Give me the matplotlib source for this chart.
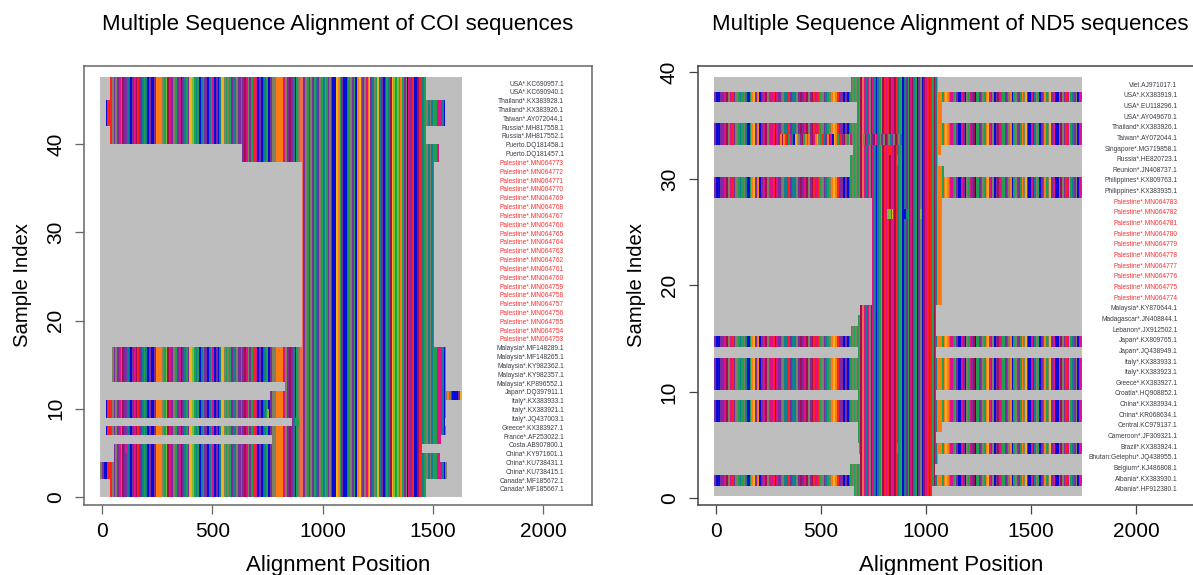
import numpy as np
import matplotlib
matplotlib.use("Agg")
import matplotlib.pyplot as plt
from matplotlib.colors import ListedColormap

plt.rcParams["font.family"] = ["Liberation Sans", "DejaVu Sans"]

W, H = 1193, 575

# base letters -> colours, index 0 is the gap colour
CODES = " robgpmtkaldsh"
COLOURS = ["#BEBEBE", "#FF2020", "#FF7A10", "#0A0AD8", "#1FA050", "#7A2CA0", "#E0108A",
           "#108090", "#7F7F62", "#F0B020", "#78C030", "#A01050", "#F06A50", "#5A1E90"]

# COI panel
COI_LABELS = ["USA*.KC690957.1", "USA*.KC690940.1", "Thailand*.KX383928.1", "Thailand*.KX383926.1",
              "Taiwan*.AY072044.1", "Russia*.MH817558.1", "Russia*.MH817552.1", "Puerto.DQ181458.1",
              "Puerto.DQ181457.1"] + [f"Palestine*.MN0647{n}" for n in range(73, 52, -1)] + [
              "Malaysia*.MF148289.1", "Malaysia*.MF148265.1", "Malaysia*.KY982362.1", "Malaysia*.KY982357.1",
              "Malaysia*.KP896552.1", "Japan*.DQ397911.1", "Italy*.KX383933.1", "Italy*.KX383921.1",
              "Italy*.JQ437003.1", "Greece*.KX383927.1", "France*.AF253022.1", "Costa.AB907800.1",
              "China*.KY971601.1", "China*.KU738431.1", "China*.KU738415.1", "Canada*.MF185672.1",
              "Canada*.MF185667.1"]
COI_START = [35, 35, -8, -8, 55, 55, 773, 15, 861, 15, 15, 761, 829, 45, 45, 45, 45] + [906] * 21 + [
    633, 633, 35, 35, 15, 15, 15, 35, 35]
COI_END = [1468, 1468, 1565, 1565, 1532, 1447, 1537, 1560, 1553, 1560, 1560, 1632, 1560, 1560, 1560, 1560, 1560] + [
    1504] * 21 + [1527, 1527, 1468, 1468, 1558, 1558, 1558, 1468, 1468]
COI_SEGMENTS = [
    (-8, 897, "kpbbrrkpkpmkdptpbpmdrptgtbpbbpoookgldmpkgpmbptgpalgtgbtgpbtgmbpbtakgkgpmtkpgpdmkpgrmbpbptgbpkkoooomkpdptbgk"),
    (897, 1468, "sspkgpkpgtpkgtkgpkpbbaogpbbtgkpgboagpkmoaptkgatpbpgtdalglgogpkbmprbbdrrtg"),
    (1468, 1636, "ktktggmmmtbkokpbbbpaa"),
]
COI_PATCHES = [(8, 875, "gg"), (9, 747, "l"), (5, 105, "m")]

# ND5 panel
ND5_LABELS = ["Viet.AJ971017.1", "USA*.KX383919.1", "USA*.EU118296.1", "USA*.AY049670.1", "Thailand*.KX383926.1",
              "Taiwan*.AY072044.1", "Singapore*.MG719858.1", "Russia*.HE820723.1", "Reunion*.JN408737.1",
              "Philippines*.KX809763.1", "Philippines*.KX383935.1"] + [
              f"Palestine*.MN0647{n}" for n in range(83, 73, -1)] + [
              "Malaysia*.KY870644.1", "Madagascar*.JN408844.1", "Lebanon*.JX912502.1", "Japan*.KX809765.1",
              "Japan*.JQ438949.1", "Italy*.KX383933.1", "Italy*.KX383923.1", "Greece*.KX383927.1",
              "Croatia*.HQ908852.1", "China*.KX383934.1", "China*.KR068634.1", "Central.KC979137.1",
              "Cameroon*.JF309321.1", "Brazil*.KX383924.1", "Bhutan:Gelephu*.JQ438955.1", "Belgium*.KJ486808.1",
              "Albania*.KX383930.1", "Albania*.HF912380.1"]
ND5_START = [657, -8, 638, 690, 681, 676, 676, -8, -8, 676, -8, -8, -8, 676, -8, 643, 676, 686] + [746] * 10 + [
    -8, -8, 640, 635, 653, -8, -8, 673, 673, -8, 646]
ND5_END = [1030, 1745, 1046, 1058, 1745, 1050, 1075, 1745, 1745, 1050, 1745, 1745, 1745, 1050, 1745, 1050, 1050, 1050] + [
    1076] * 10 + [1745, 1745, 1086, 1058, 1072, 1745, 1745, 1078, 1078, 1745, 1058]
ND5_SEGMENTS = [
    (-8, 650, "pbbppmdkmrpkgtgktbgoapobpmdkmmrdmpgktmrpttkpdpmdkpdrmrgkptgkoaorppbpbmg"),
    (650, 1060, "kgkgkdsmtmkdmtbtgsdrmrdrmdrtgkbtpgdmdtgbpkbdmrprgdto"),
    (1060, 1746, "oogoaokmgkpbbmpbkgmpdbgptkgoampkbpdmrgptkobgkmpgokapbmdtkgbprogkapmbbgdkprmogtpkbmr"),
]
ND5_PATCHES = [(33, 305, "odorpgmtbaokpdgogopdmoakgrtpodmbaogtrpdkgom"),
               (33, 700, "kdmtkpdkmtkpkdmktpkdmkt"),
               (26, 815, "ll"), (26, 838, "a"), (26, 895, "bt"), (26, 971, "l"),
               (4, 862, "k"), (31, 860, "k"), (32, 826, "r")]

X_TICKS = [0, 500, 1000, 1500, 2000]
Y_TICKS = [0, 10, 20, 30, 40]
PALESTINE_RED = "#FF3030"


def build_matrix(starts, ends, segments, patches, top):
    """Row by column matrix of colour indices, gaps stay 0."""
    edges = np.arange(segments[0][0], top + 4, 4)
    mids = (edges[:-1] + edges[1:]) / 2
    column = np.zeros(len(mids), dtype=int)
    for seg_a, seg_b, letters in segments:
        inside = (mids >= seg_a) & (mids < seg_b)
        where = ((mids[inside] - seg_a) / (seg_b - seg_a) * len(letters)).astype(int)
        column[inside] = [CODES.index(letters[i]) for i in where]
    matrix = np.zeros((len(starts), len(mids)), dtype=int)
    for row, (a, b) in enumerate(zip(starts, ends)):
        keep = (mids >= a) & (mids < b)
        matrix[row, keep] = column[keep]
    for row, start, letters in patches:
        for k, letter in enumerate(letters):
            keep = (mids >= start + 8 * k) & (mids < start + 8 * (k + 1))
            matrix[row, keep] = CODES.index(letter)
    return edges, matrix


def panel(box, xlim, ylim, title, starts, ends, segments, patches, top, labels, row_base, row_top, label_x, spine, text_x):
    left, upper, right, lower = box
    ax = fig.add_axes([left / W, 1 - lower / H, (right - left) / W, (lower - upper) / H])
    edges, matrix = build_matrix(starts, ends, segments, patches, top)
    y_edges = np.arange(len(starts) + 1) + row_base
    y_edges[-1] = row_top
    ax.pcolormesh(edges, y_edges, matrix, cmap=ListedColormap(COLOURS), vmin=-0.5, vmax=len(COLOURS) - 0.5,
                  shading="flat", antialiased=False, rasterized=True)
    n = len(labels)
    for i, name in enumerate(labels):
        colour = PALESTINE_RED if name.startswith("Palestine") else "#3C3C46"
        ax.text(label_x, n - 1 - i + 0.8, name, ha="right", va="center", fontsize=4.8, color=colour)
    ax.set_xlim(*xlim)
    ax.set_ylim(*ylim)
    ax.set_xticks(X_TICKS)
    ax.set_yticks(Y_TICKS)
    ax.tick_params(axis="both", length=6.5, width=0.9, color=spine, labelsize=15)
    ax.tick_params(axis="x", pad=6)
    ax.tick_params(axis="y", pad=7)
    for tick in ax.get_yticklabels():
        tick.set_rotation(90)
        tick.set_va("center")
    for side in ax.spines.values():
        side.set_color(spine)
        side.set_linewidth(1.1)
    ax.set_xlabel("Alignment Position", fontsize=16, labelpad=10, x=text_x)
    ax.set_ylabel("Sample Index", fontsize=14.6, labelpad=10)
    ax.set_title(title, fontsize=16, pad=26, x=text_x)
    return ax


fig = plt.figure(figsize=(W / 100, H / 100), dpi=100)
panel((84, 66, 591.5, 505), (-82, 2218), (-0.9, 48.84), "Multiple Sequence Alignment of COI sequences",
      COI_START, COI_END, COI_SEGMENTS, COI_PATCHES, 1632, COI_LABELS, 0.0, 47.6, 2093, "#666666", 0.5)
panel((697.5, 66, 1195, 505), (-88, 2281), (-0.63, 40.6), "Multiple Sequence Alignment of ND5 sequences",
      ND5_START, ND5_END, ND5_SEGMENTS, ND5_PATCHES, 1742, ND5_LABELS, 0.2, 39.6, 2198, "#444444", 0.509)
fig.savefig("out.png", dpi=100)
plt.close(fig)
